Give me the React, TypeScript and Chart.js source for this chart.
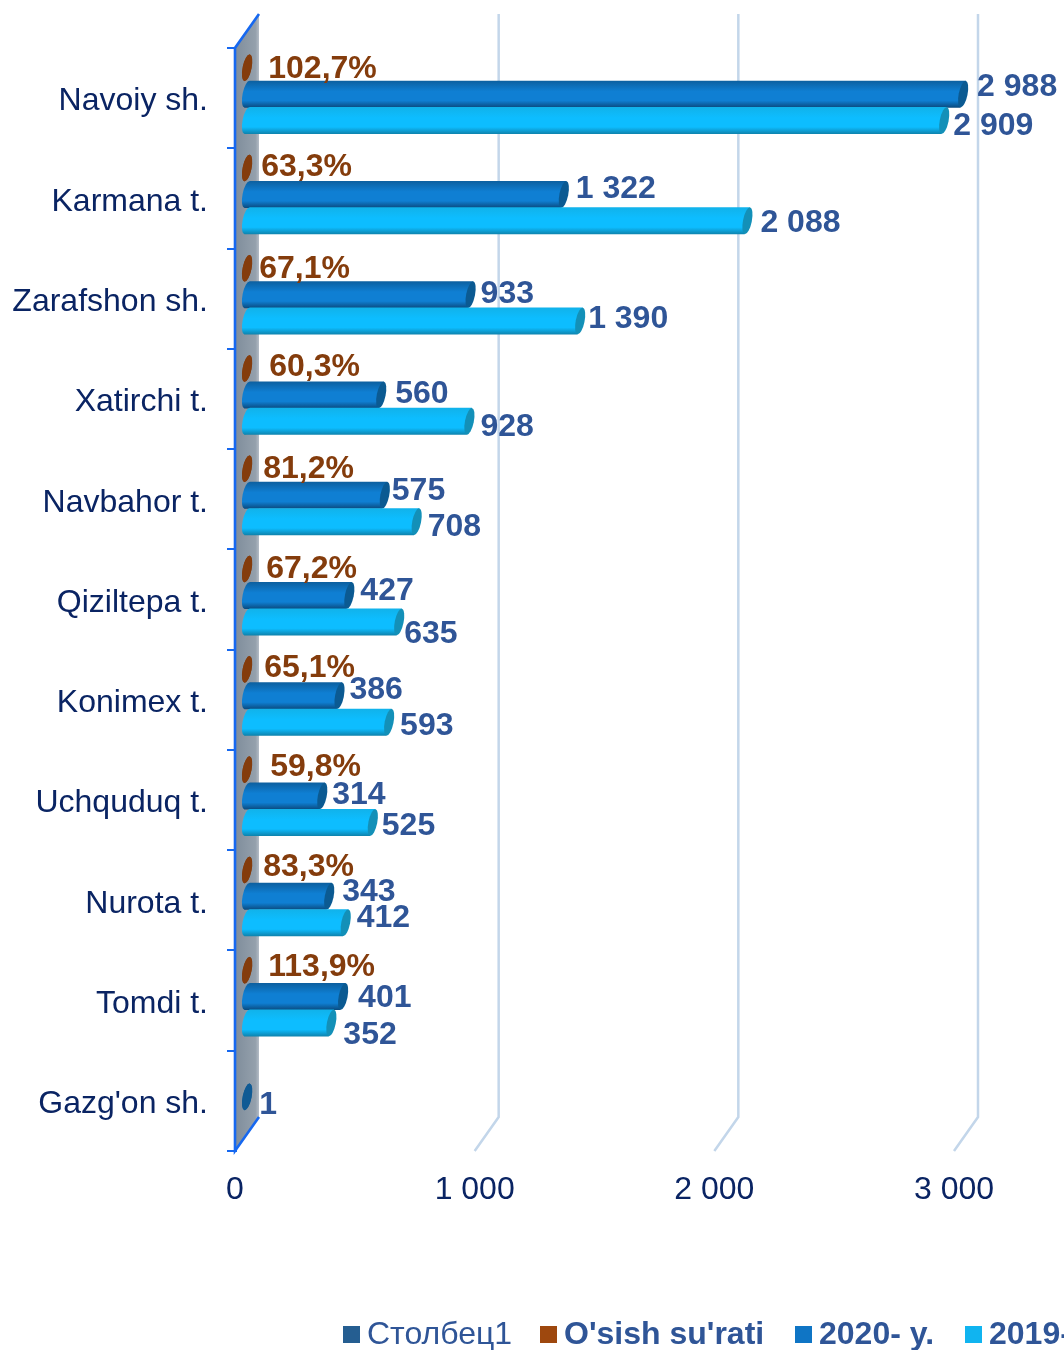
import React, { useEffect, useRef } from "react";
import { Chart, registerables } from "chart.js";

Chart.register(...registerables);

const categories = ["Navoiy sh.", "Karmana t.", "Zarafshon sh.", "Xatirchi t.", "Navbahor t.", "Qiziltepa t.", "Konimex t.", "Uchquduq t.", "Nurota t.", "Tomdi t.", "Gazg'on sh."];
const growth = [1.027, 0.633, 0.671, 0.603, 0.812, 0.672, 0.651, 0.598, 0.833, 1.139, null];
const year2020 = [2988, 1322, 933, 560, 575, 427, 386, 314, 343, 401, null];
const year2019 = [2909, 2088, 1390, 928, 708, 635, 593, 525, 412, 352, null];
const column1 = [null, null, null, null, null, null, null, null, null, null, 1];

// Hand-placed label nudges of the original chart (px), kept apart from the data.
const growthNudge = [[17, -1], [10, -3], [8, -1], [18, -3], [12, -2], [15, -2], [13, -3], [19, -4], [12, -5], [17, -5], [0, 0]];
const y2020Nudge = [[10, -9], [8, -7], [6, -3], [10, -3], [3, -6], [7, -6], [6, -8], [6, -3], [9, -6], [11, 0], [0, 0]];
const y2019Nudge = [[5, 4], [9, 0], [4, -4], [7, 4], [7, 4], [1, 10], [7, 2], [5, 2], [7, -7], [8, 10], [0, 0]];
const column1Nudge = Array.from({ length: 11 }, (_, i) => (i === 10 ? [8, 6] : [0, 0]));

const FONT = "'Liberation Sans', sans-serif";
const DEPTH_X = 24;
const DEPTH_Y = 34;
const BAR_DX = 11.5;
const BAR_DY = -4;
const CAP_RX = 4.4;
const TILT = 0.2;
const AXIS_BLUE = "#1668f0";

const looks: Record<string, any> = {
  "O'sish su'rati": { top: "#843c0c", mid: "#843c0c", bottom: "#843c0c", cap: "#843c0c", text: "#843c0c", nudge: growthNudge, fmt: (v: number) => (v * 100).toFixed(1).replace(".", ",") + "%" },
  "2020- y.": { top: "#0c5f9f", mid: "#0f7fd3", bottom: "#0a4a7e", cap: "#0b5a92", text: "#2f5597", nudge: y2020Nudge },
  "2019- y.": { top: "#11b2ea", mid: "#0dbdff", bottom: "#0e82ac", cap: "#1390b8", text: "#2f5597", nudge: y2019Nudge },
  "Столбец1": { top: "#0f5a94", mid: "#0f5a94", bottom: "#0f5a94", cap: "#0f5a94", text: "#2f5597", nudge: column1Nudge },
};
const fmtNumber = (v: number) => String(v).replace(/\B(?=(\d{3})+$)/g, " ");

const scene = {
  id: "scene",
  beforeDatasetsDraw(chart: any) {
    const { ctx, chartArea: a, scales } = chart;
    ctx.save();
    // side wall
    const g = ctx.createLinearGradient(a.left, 0, a.left + DEPTH_X, 0);
    g.addColorStop(0, "#7f8d9b");
    g.addColorStop(0.85, "#94a0ac");
    g.addColorStop(1, "#b4bcc6");
    ctx.fillStyle = g;
    ctx.beginPath();
    ctx.moveTo(a.left, a.top);
    ctx.lineTo(a.left + DEPTH_X, a.top - DEPTH_Y);
    ctx.lineTo(a.left + DEPTH_X, a.bottom - DEPTH_Y);
    ctx.lineTo(a.left, a.bottom);
    ctx.closePath();
    ctx.fill();
    // wall edges and front axis line
    ctx.strokeStyle = AXIS_BLUE;
    ctx.lineWidth = 2.6;
    ctx.beginPath();
    ctx.moveTo(a.left + DEPTH_X, a.top - DEPTH_Y);
    ctx.lineTo(a.left, a.top);
    ctx.lineTo(a.left, a.bottom);
    ctx.lineTo(a.left + DEPTH_X, a.bottom - DEPTH_Y);
    ctx.stroke();
    // back grid lines
    ctx.strokeStyle = "#c3d6ea";
    ctx.lineWidth = 2.5;
    for (const t of scales.x.ticks) {
      if (t.value === 0) continue;
      const x = scales.x.getPixelForValue(t.value);
      ctx.beginPath();
      ctx.moveTo(x, a.bottom);
      ctx.lineTo(x + DEPTH_X, a.bottom - DEPTH_Y);
      ctx.lineTo(x + DEPTH_X, a.top - DEPTH_Y);
      ctx.stroke();
    }
    // cylinders
    chart.data.datasets.forEach((ds: any, di: number) => {
      const look = looks[ds.label];
      chart.getDatasetMeta(di).data.forEach((el: any, i: number) => {
        if (ds.data[i] == null) return;
        const h = el.height + 0.6;
        const yc = el.y + BAR_DY;
        const xl = el.base + 12;
        const xr = Math.max(xl, el.x + 12);
        const s = (h / 2) * TILT;
        const top = yc - h / 2;
        const bot = yc + h / 2;
        const grad = ctx.createLinearGradient(0, top, 0, bot);
        grad.addColorStop(0, look.top);
        grad.addColorStop(0.4, look.mid);
        grad.addColorStop(0.74, look.mid);
        grad.addColorStop(1, look.bottom);
        ctx.fillStyle = grad;
        ctx.beginPath();
        ctx.ellipse(xl, yc, CAP_RX, h / 2, TILT, 0, Math.PI * 2);
        ctx.fill();
        if (xr > xl) {
          ctx.beginPath();
          ctx.moveTo(xl + s, top);
          ctx.lineTo(xr + s, top);
          ctx.lineTo(xr - s, bot);
          ctx.lineTo(xl - s, bot);
          ctx.closePath();
          ctx.fill();
          ctx.fillStyle = look.cap;
          ctx.beginPath();
          ctx.ellipse(xr, yc, CAP_RX, h / 2, TILT, 0, Math.PI * 2);
          ctx.fill();
        }
      });
    });
    ctx.restore();
    return false;
  },
  afterDraw(chart: any) {
    const { ctx } = chart;
    ctx.save();
    // value labels
    ctx.font = `bold 32px ${FONT}`;
    ctx.textAlign = "left";
    ctx.textBaseline = "middle";
    chart.data.datasets.forEach((ds: any, di: number) => {
      const look = looks[ds.label];
      ctx.fillStyle = look.text;
      chart.getDatasetMeta(di).data.forEach((el: any, i: number) => {
        const v = ds.data[i];
        if (v == null) return;
        const [dx, dy] = look.nudge[i];
        const text = look.fmt ? look.fmt(v) : fmtNumber(v);
        ctx.fillText(text, el.x + BAR_DX + 4.5 + dx, el.y + BAR_DY + dy + 2);
      });
    });
    // legend (overflows the right edge like the original)
    const legend = [
      { label: "Столбец1", swatch: "#255e91", x: 343, bold: false },
      { label: "O'sish su'rati", swatch: "#9e480e", x: 540, bold: true },
      { label: "2020- y.", swatch: "#0f75c5", x: 795, bold: true },
      { label: "2019- y.", swatch: "#10b4f0", x: 965, bold: true },
    ];
    for (const item of legend) {
      ctx.fillStyle = item.swatch;
      ctx.fillRect(item.x, 1326, 17, 17);
      ctx.fillStyle = "#2f5597";
      ctx.font = `${item.bold ? "bold " : ""}32px ${FONT}`;
      ctx.fillText(item.label, item.x + 24, 1335);
    }
    ctx.restore();
  },
};

export default function App() {
  const ref = useRef<HTMLCanvasElement>(null);
  useEffect(() => {
    const chart = new Chart(ref.current as HTMLCanvasElement, {
      type: "bar",
      data: {
        labels: categories,
        datasets: [
          { label: "O'sish su'rati", data: growth, stack: "rate", backgroundColor: "#9e480e" },
          { label: "2020- y.", data: year2020, stack: "main", backgroundColor: "#0f75c5" },
          { label: "Столбец1", data: column1, stack: "main", backgroundColor: "#255e91" },
          { label: "2019- y.", data: year2019, stack: "prev", backgroundColor: "#10b4f0" },
        ],
      },
      options: {
        indexAxis: "y",
        responsive: false,
        animation: false,
        categoryPercentage: 0.79,
        barPercentage: 1,
        layout: { padding: { top: 48, right: 110, left: 0, bottom: 0 } },
        plugins: { legend: { display: false }, title: { display: false }, tooltip: { enabled: false } },
        scales: {
          x: {
            min: 0,
            max: 3000,
            afterFit: (s: any) => { s.height = 199; },
            grid: { display: false },
            border: { display: false },
            ticks: {
              stepSize: 1000,
              maxRotation: 0,
              padding: 12,
              color: "#0a2463",
              font: { family: FONT, size: 32 },
              callback: (v: any) => fmtNumber(v),
            },
          },
          y: {
            afterFit: (s: any) => { s.width = 235; },
            grid: { display: true, drawOnChartArea: false, drawTicks: true, tickLength: 8, color: AXIS_BLUE, lineWidth: 2 },
            border: { display: true, color: AXIS_BLUE, width: 3 },
            ticks: {
              padding: 19,
              labelOffset: 3.5,
              color: "#0a2463",
              font: { family: FONT, size: 32 },
            },
          },
        },
      },
      plugins: [scene],
    } as any);
    return () => chart.destroy();
  }, []);
  return (
    <div style={{ position: "absolute", left: 0, top: 0, width: 1064, height: 1350, overflow: "hidden", background: "#fff" }}>
      <canvas ref={ref} width={1064} height={1350} style={{ display: "block" }} />
    </div>
  );
}
